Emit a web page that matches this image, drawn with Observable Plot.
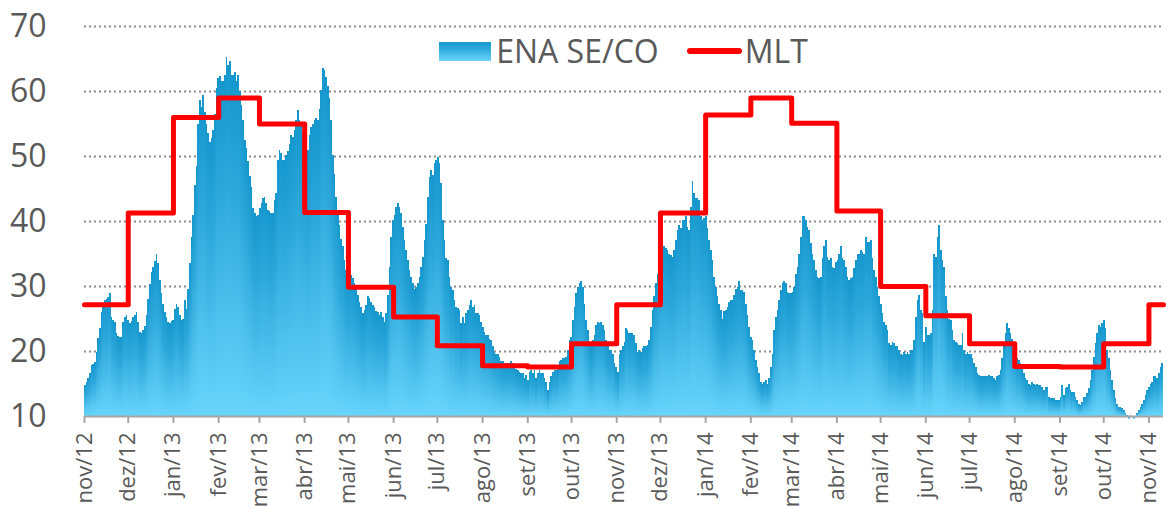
<!DOCTYPE html>
<html>
<head>
<meta charset="utf-8">
<script src="https://cdn.jsdelivr.net/npm/d3@7"></script>
<script src="https://cdn.jsdelivr.net/npm/@observablehq/plot@0.6"></script>
<style>
  body { margin: 0; background: #fff; font-family: "Open Sans", sans-serif; }
  #wrap { position: relative; width: 1167px; height: 508px; overflow: hidden; }
  #legend { position: absolute; top: 33px; left: 84px; right: 4px; display: flex; justify-content: center; align-items: center; color: #595959; font-size: 32px; line-height: 36px; font-family: "Open Sans", sans-serif; }
  .sw { width: 52px; height: 19px; background: linear-gradient(#1597cd, #2ea8db 35%, #68d5fb); margin-right: 5px; }
  .ln { width: 55px; height: 6px; border-radius: 3px; background: #ff0000; margin-left: 28px; margin-right: 3px; }
</style>
</head>
<body>
<div id="wrap">
  <div id="chart"></div>
  <div id="legend"><div class="sw"></div><span>ENA SE/CO</span><div class="ln"></div><span>MLT</span></div>
</div>
<script>
// Period covered by the daily ENA series (evenly spaced readings)
const periodStart = "2012-11-01";
const periodEnd = "2014-11-11";

// ENA SE/CO readings from the chart, chronological
const enaNovJan13 = [14.8,15.2,15.9,16.6,17.8,18.0,18.3,19.8,22.0,23.5,
26.0,27.2,27.9,28.0,28.3,29.0,25.3,24.8,24.5,22.8,
22.3,22.2,22.2,24.5,25.3,25.6,24.8,24.3,24.6,25.3,
25.6,26.0,24.5,23.0,22.7,23.2,23.8,25.5,28.0,30.3,
32.2,33.0,33.8,35.0,33.5,31.0,29.0,27.2,26.0,25.2,
24.5,24.3,24.6,24.8,26.5,27.3,26.8,25.5,24.8,25.0,
27.8,26.5,29.5,33.5,37.5,41.0,45.5,48.5,55.0,58.6,
57.5,59.4,56.8,55.0,53.5,52.2,52.8,54.0,56.5,60.5,
62.0,62.3,61.5,61.6,62.5,65.3,64.0,64.6,62.5,62.4,
63.0,61.5,62.5,60.0,57.8,55.5,52.5,51.2,49.3,47.0,
45.2,42.0,41.2,40.8,41.0,42.0,42.8,43.5];
const enaMarJul13 = [43.7,42.7,41.7,41.5,41.2,41.2,43.2,44.3,49.4,50.9,
50.4,49.4,49.4,50.2,50.7,51.9,53.2,53.0,54.0,55.5,
57.1,55.5,55.0,53.5,52.2,52.2,50.9,53.2,54.5,55.0,
55.5,55.8,55.5,57.3,60.2,63.5,63.2,62.2,60.7,58.9,
55.5,50.2,47.3,43.7,41.7,39.4,37.3,36.1,34.0,32.5,
31.7,31.4,31.7,31.2,30.4,29.9,28.6,27.6,26.8,25.8,
26.3,27.1,28.4,28.1,27.6,27.1,26.8,26.1,26.0,25.5,
26.0,25.3,24.5,25.8,28.6,33.0,37.6,40.2,40.9,42.2,
42.7,42.2,41.2,39.1,37.1,35.5,34.0,32.5,31.4,30.4,
29.6,29.9,30.4,31.4,33.0,34.5,37.1,39.6,43.7,46.8,
47.8,47.1,48.9,49.4,49.9,49.0,45.8,40.2];
const enaJulNov13 = [37.1,34.3,34.0,31.4,29.9,29.4,27.8,26.8,26.6,26.3,
24.3,25.3,24.3,25.8,26.3,27.1,27.8,26.8,27.1,25.8,
25.8,25.5,24.5,23.7,23.0,22.5,22.5,21.9,21.7,20.7,
19.9,19.6,19.6,19.1,18.4,18.4,18.1,18.1,18.1,18.1,
18.4,18.1,17.8,17.3,17.1,16.8,16.6,16.6,15.8,16.3,
15.5,16.8,17.1,16.6,17.1,15.8,16.6,17.1,16.6,16.6,
15.8,15.3,14.0,15.3,16.1,16.8,17.1,17.1,17.3,18.4,
18.6,18.9,18.9,19.1,20.2,21.7,22.2,24.8,26.8,28.9,
29.9,30.4,30.7,29.9,27.3,24.8,23.2,21.2,20.7,21.7,
22.5,24.0,24.5,24.3,24.5,24.0,23.2,21.7,20.7,20.2,
20.2,19.6,18.1,17.6,16.8,19.6,20.2,20.7];
const enaNovMar14 = [21.4,23.5,23.2,22.7,22.7,22.7,22.5,21.2,19.9,20.2,
19.9,20.4,20.7,20.7,20.9,21.7,23.7,26.3,28.4,30.4,
31.9,34.0,35.0,37.1,36.1,35.8,35.5,35.0,34.8,34.5,
35.5,37.1,38.6,39.4,38.9,40.2,40.2,40.7,39.1,38.6,
42.2,46.1,44.3,43.5,43.5,43.2,40.7,40.2,40.4,40.7,
38.9,37.1,35.5,34.0,31.4,29.9,28.4,27.3,26.3,25.0,
26.1,26.3,26.8,27.6,27.8,27.9,28.6,29.6,29.9,30.7,
29.4,29.4,29.1,27.3,25.5,23.7,22.2,21.7,20.2,18.6,
17.6,16.6,15.3,15.0,15.3,15.5,15.0,15.8,17.6,19.6,
23.2,25.3,26.3,27.8,29.4,30.4,30.7,30.4,29.1,28.9,
28.9,29.1,29.9,31.9,33.0,35.0,37.6,40.7];
const enaMarJul14 = [40.7,40.2,39.1,38.6,36.6,35.0,34.0,32.5,31.4,31.2,
31.4,34.3,36.1,37.1,34.5,34.0,34.3,33.0,32.8,33.7,
34.0,35.0,36.1,34.3,34.0,33.0,31.4,30.9,31.2,31.4,
32.7,34.0,35.0,35.0,35.5,35.3,35.0,37.6,36.8,36.8,
37.1,34.3,32.5,31.4,29.9,28.4,27.3,25.8,24.5,24.0,
23.2,21.2,20.9,21.4,21.2,20.7,20.7,20.2,19.6,19.4,
19.9,19.6,19.9,19.6,20.2,20.2,21.7,25.3,27.8,28.6,
26.3,25.8,21.4,23.7,22.5,22.5,22.7,26.3,35.0,34.5,
37.6,39.4,35.5,34.0,33.0,28.4,26.3,25.0,24.8,23.2,
21.7,21.4,21.2,20.9,20.9,22.7,20.2,19.6,19.9,19.6,
19.6,18.9,18.1,17.6,16.6,16.3,16.1,16.1];
const enaJulNov14 = [16.1,16.1,16.2,16.3,16.1,16.1,15.8,15.5,16.1,16.3,
17.1,18.9,20.7,22.7,24.3,23.5,22.7,21.9,20.9,19.9,
18.9,18.6,18.1,17.3,16.6,15.8,15.5,15.0,14.8,15.3,
15.0,14.8,15.0,14.8,14.8,14.5,14.0,14.5,14.5,13.0,
12.7,12.7,12.7,12.5,12.5,12.5,13.0,14.8,13.2,14.3,
14.5,15.0,14.0,13.7,13.7,13.0,12.5,11.9,11.7,12.2,
13.0,13.0,13.5,14.3,15.5,17.1,19.1,21.2,22.7,24.0,
23.7,24.3,24.8,23.5,20.2,18.9,17.1,15.5,14.0,12.7,
11.9,11.4,11.4,11.2,10.9,10.4,10.2,9.6,10.2,9.9,
9.6,9.9,10.4,10.9,11.4,11.9,12.5,13.2,14.0,14.5,
15.0,15.3,16.1,16.1,15.8,16.6,17.6,18.1];

// Month tick labels and monthly MLT values (one per month, nov/12 .. nov/14)
const monthLabels = ["nov/12","dez/12","jan/13","fev/13","mar/13","abr/13","mai/13","jun/13","jul/13","ago/13","set/13","out/13",
  "nov/13","dez/13","jan/14","fev/14","mar/14","abr/14","mai/14","jun/14","jul/14","ago/14","set/14","out/14","nov/14"];
const mltValues = [27.2,41.3,56.0,59.0,55.0,41.4,29.9,25.3,20.9,17.8,17.6,21.2,
  27.2,41.3,56.4,59.0,55.1,41.6,30.0,25.5,21.2,17.7,17.6,21.2,27.2];
const yTicks = [10,20,30,40,50,60,70];
const yGrid = [20,30,40,50,60,70];

// ---- build tables ----
const t0 = new Date(periodStart + "T00:00:00Z");
const t1 = new Date(periodEnd + "T00:00:00Z");
const enaAll = [...enaNovJan13, ...enaMarJul13, ...enaJulNov13, ...enaNovMar14, ...enaMarJul14, ...enaJulNov14];
const step = (t1 - t0) / enaAll.length;
const ena = enaAll.map((v, i) => ({
  x1: new Date(+t0 + i * step),
  x2: new Date(+t0 + (i + 1) * step),
  v
}));
const monthDates = d3.utcMonth.range(t0, t1);
const labelOf = new Map(monthDates.map((d, i) => [+d, monthLabels[i]]));
const mlt = monthDates.map((d, i) => ({date: d, v: mltValues[i]}));
mlt.push({date: t1, v: mltValues[mltValues.length - 1]});

const chart = Plot.plot({
  width: 1167,
  height: 508,
  marginLeft: 84,
  marginRight: 4,
  marginTop: 26,
  marginBottom: 92,
  style: {fontFamily: "'Open Sans', sans-serif", color: "#595959", background: "#fff", overflow: "visible"},
  x: {type: "utc", domain: [t0, t1], axis: null},
  y: {domain: [10, 70], axis: null},
  marks: [
    Plot.ruleY(yGrid, {stroke: "#8c8c8c", strokeWidth: 2, strokeDasharray: "2,3"}),
    Plot.rectY(ena, {x1: "x1", x2: "x2", y1: 10, y2: "v", fill: "url(#enaGrad)", shapeRendering: "crispEdges"}),
    Plot.ruleY([10], {stroke: "#a6a6a6", strokeWidth: 2}),
    Plot.axisX(monthDates, {
      label: null,
      tickSize: 7, tickPadding: 9, tickRotate: -90,
      tickFormat: d => labelOf.get(+d),
      fontSize: 22, stroke: "#a6a6a6", strokeWidth: 2
    }),
    Plot.lineY(mlt, {x: "date", y: "v", curve: "step-after", stroke: "#ff0000", strokeWidth: 5, strokeLinejoin: "round", strokeLinecap: "round"}),
    Plot.axisY(yTicks, {label: null, tickSize: 0, tickPadding: 38, fontSize: 32})
  ]
});

const defs = d3.select(chart).insert("defs", ":first-child");
const grad = defs.append("linearGradient").attr("id", "enaGrad")
  .attr("x1", 0).attr("y1", 0).attr("x2", 0).attr("y2", 1);
grad.append("stop").attr("offset", "0%").attr("stop-color", "#1597cd");
grad.append("stop").attr("offset", "35%").attr("stop-color", "#2ea8db");
grad.append("stop").attr("offset", "100%").attr("stop-color", "#68d5fb");

document.getElementById("chart").appendChild(chart);
</script>
</body>
</html>
